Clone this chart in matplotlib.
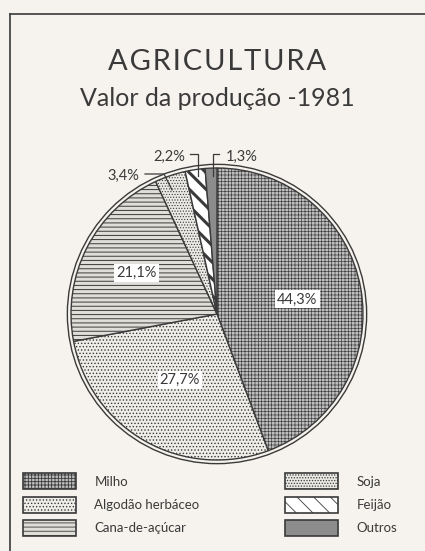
import numpy as np
import matplotlib.pyplot as plt
from matplotlib.patches import Patch, Circle

# dados
culturas = ["Milho", "Algodão herbáceo", "Cana-de-açúcar", "Soja", "Feijão", "Outros"]
valores = [44.3, 27.7, 21.1, 3.4, 2.2, 1.3]
rotulos = ["44,3%", "27,7%", "21,1%", "3,4%", "2,2%", "1,3%"]

cores = ["#bdbdbd", "#efede8", "#e0ded9", "#ebe9e5", "#ffffff", "#8c8c8c"]
hachuras = ["+++++", ".....", "----", "......", "\\\\", None]
espessura = [0.45, 0.6, 0.7, 0.5, 2.2, 0.5]

fundo = "#f6f3ee"
tinta = "#3a3a3a"
plt.rcParams['font.family'] = ['Lato', 'DejaVu Sans']
plt.rcParams['hatch.linewidth'] = 0.6
plt.rcParams['hatch.color'] = tinta

fig = plt.figure(figsize=(4.25, 5.51), dpi=100)
fig.patch.set_facecolor(fundo)

# moldura (apenas esquerda e topo visiveis)
fig.add_artist(plt.Line2D([10 / 425, 10 / 425], [0, 1 - 14 / 551], color=tinta, lw=1.2))
fig.add_artist(plt.Line2D([10 / 425, 1], [1 - 14 / 551, 1 - 14 / 551], color=tinta, lw=1.2))

fig.text(217 / 425, 1 - 62 / 551, "\u200a".join("AGRICULTURA"), ha='center', va='center',
         fontsize=21, color=tinta, family=['Lato', 'DejaVu Sans'])
fig.text(217 / 425, 1 - 99 / 551, "Valor da produção -1981", ha='center', va='center',
         fontsize=18, color=tinta)

# pizza: centro (217, 314) px, raio 146 px
cx, cy, R = 217, 314, 146
ax = fig.add_axes([(cx - 200) / 425, (551 - cy - 200) / 551, 400 / 425, 400 / 551])
wedges, _ = ax.pie(valores, startangle=90, counterclock=False, colors=cores,
                   wedgeprops=dict(edgecolor=tinta, linewidth=1.0))


def hachurar(p, h, lw):
    if h:
        p.set_hatch(h)
        if hasattr(p, 'set_hatch_linewidth'):
            p.set_hatch_linewidth(lw)


for w, h, e in zip(wedges, hachuras, espessura):
    hachurar(w, h, e)
ax.add_patch(Circle((0, 0), 1.025, fill=False, ec=tinta, lw=1.0))
ax.set_xlim(-200 / R, 200 / R)
ax.set_ylim(-200 / R, 200 / R)
ax.set_aspect('equal')
ax.axis('off')


def px(x, y):
    return (x - cx) / R, (cy - y) / R


# rotulos internos
raios = [0.56, 0.52, 0.62]
for w, r, txt in zip(wedges[:3], raios, rotulos[:3]):
    ang = np.deg2rad((w.theta1 + w.theta2) / 2)
    ax.text(r * np.cos(ang), r * np.sin(ang), txt, ha='center', va='center',
            fontsize=10.5, color=tinta,
            bbox=dict(facecolor='white', edgecolor='none', pad=1.5))

# rotulos externos com linhas de chamada
ax.text(*px(123, 176), rotulos[3], ha='center', va='center', fontsize=10.5, color=tinta)
ax.plot(*zip(px(145, 174), px(164, 174), px(172, 190)), color=tinta, lw=0.9)
ax.text(*px(169, 157), rotulos[4], ha='center', va='center', fontsize=10.5, color=tinta)
ax.plot(*zip(px(190, 154), px(198, 154), px(198, 176)), color=tinta, lw=0.9)
ax.text(*px(242, 157), rotulos[5], ha='center', va='center', fontsize=10.5, color=tinta)
ax.plot(*zip(px(219, 154), px(213, 154), px(213, 176)), color=tinta, lw=0.9)

# legenda em duas colunas
alcas = []
for c, h, e in zip(cores, hachuras, espessura):
    p = Patch(facecolor=c, edgecolor=tinta, lw=1.2)
    hachurar(p, h, e)
    alcas.append(p)
for i, x0 in enumerate([14 / 425, 276 / 425]):
    leg = fig.legend(alcas[3 * i:3 * i + 3], culturas[3 * i:3 * i + 3],
                     loc='upper left', bbox_to_anchor=(x0, 1 - 464 / 551),
                     frameon=False, fontsize=9.5, handlelength=4.0, handleheight=1.5,
                     handletextpad=1.4, labelspacing=0.55, borderpad=0.2)
    for t in leg.get_texts():
        t.set_color(tinta)

fig.savefig("out.png", dpi=100, facecolor=fundo)
